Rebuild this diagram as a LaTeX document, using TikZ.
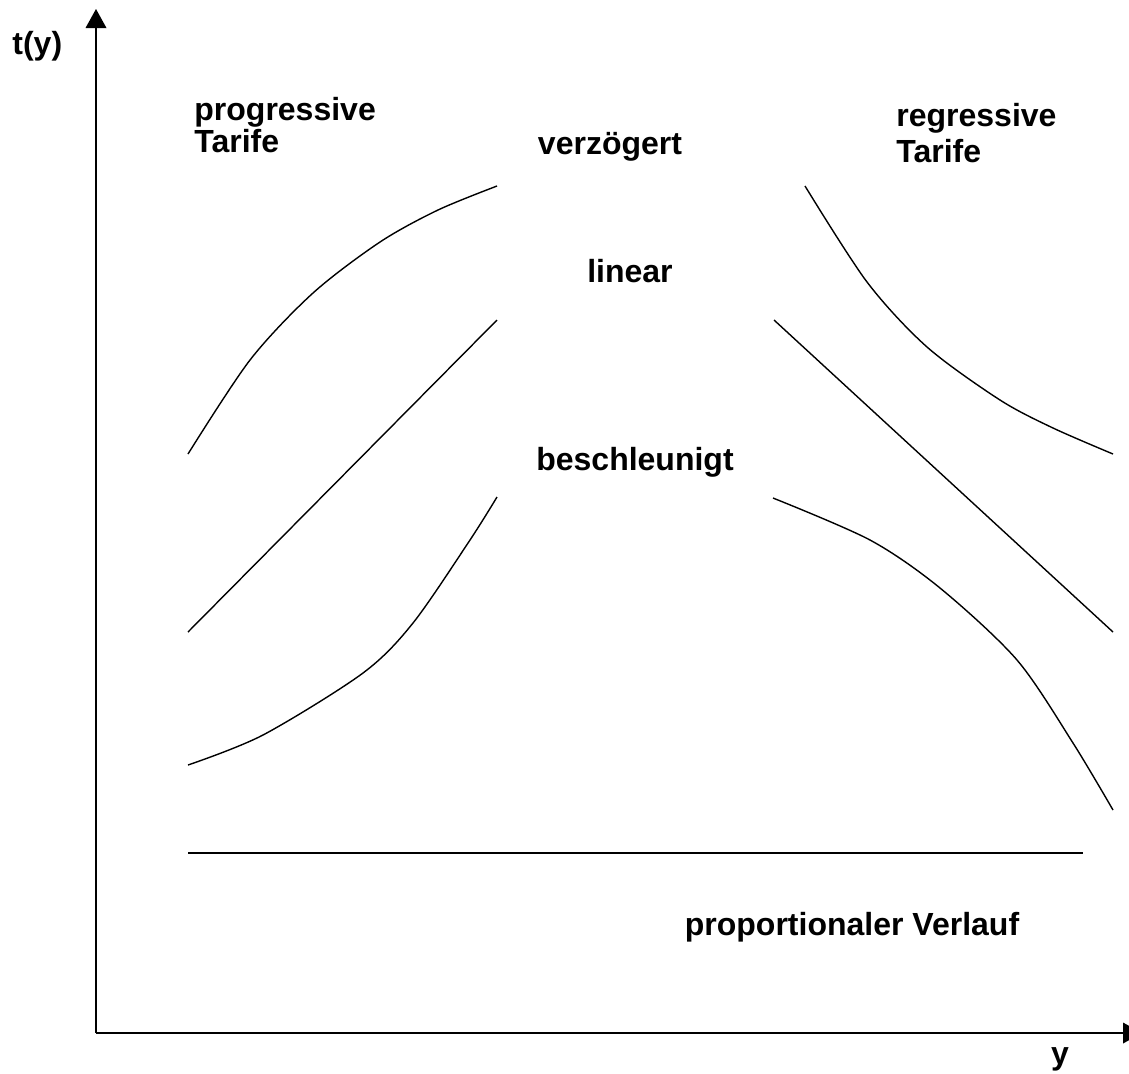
\documentclass[tikz,border=0pt]{standalone}
\usepackage{fontspec}
\setmainfont{Liberation Sans}
\usepackage{tikz}

\begin{document}
\begin{tikzpicture}[x=0.5pt,y=0.5pt]
  \tikzstyle{every node}+=[inner sep=0pt,font=\fontsize{16}{16}\selectfont\bfseries]
  \tikzstyle{curve}=[black,line width=0.7pt]
  \tikzstyle{axis}=[black,line width=1.2pt]
  \useasboundingbox (0,0) rectangle (1129,-1073);
  % axes
  \coordinate (O) at (96,-1033);
  \coordinate (ytip) at (96,-28);
  \coordinate (xtip) at (1123,-1033);
  \draw [axis] (O) -- (ytip);
  \fill [black] (96,-9) -- (85.5,-28) -- (106.5,-28);
  \draw [axis] (O) -- (xtip);
  \fill [black] (1142,-1033) -- (1123,-1022.5) -- (1123,-1043.5);
  \node (ty) [anchor=base west] at (12,-54) {t(y)};
  \node (yy) [anchor=base] at (1060,-1064) {y};
  % progressive
  \draw [curve] plot [smooth] coordinates {(188,-454) (250,-360) (313,-293) (380,-242) (438,-210) (497,-186)};
  \draw [curve] (188,-632) -- (497,-320);
  \draw [curve] plot [smooth] coordinates {(188,-765) (263,-735) (363,-673) (413,-623) (470,-540) (497,-497)};
  % regressive
  \draw [curve] plot [smooth] coordinates {(805,-186) (867,-282) (927,-347) (1000,-400) (1053,-428) (1113,-454)};
  \draw [curve] (774,-320) -- (1113,-632);
  \draw [curve] plot [smooth] coordinates {(773,-498) (870,-540) (940,-588) (1017,-660) (1073,-743) (1113,-810)};
  % proportional
  \draw [curve] (188,-853) -- (1083,-853);
  % labels
  \node (prog) [anchor=base west,align=left,font=\fontsize{16}{16}\selectfont\bfseries] at (194,-152) {progressive\\Tarife};
  \node (regr) [anchor=base west,align=left,font=\fontsize{16}{18}\selectfont\bfseries] at (896,-162) {regressive\\Tarife};
  \node (verz) [anchor=base] at (610,-154) {verzögert};
  \node (lin) [anchor=base] at (630,-282) {linear};
  \node (besch) [anchor=base] at (635,-470) {beschleunigt};
  \node (prop) [anchor=base] at (852,-935) {proportionaler Verlauf};
\end{tikzpicture}
\end{document}
